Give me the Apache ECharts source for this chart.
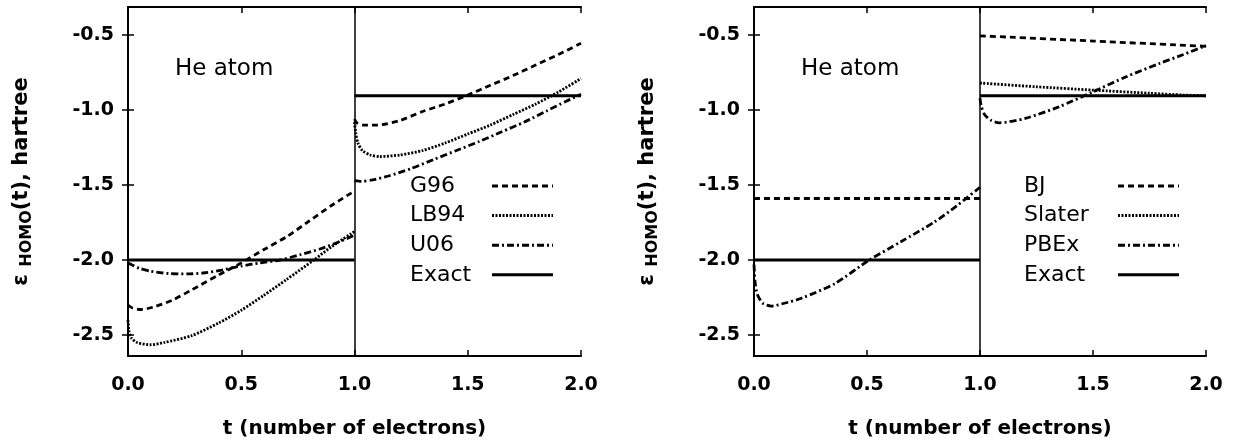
<!DOCTYPE html>
<html>
<head>
<meta charset="utf-8">
<script src="https://cdn.jsdelivr.net/npm/echarts@6/dist/echarts.min.js"></script>
<style>
  html, body { margin: 0; padding: 0; background: #fff; }
  #chart { width: 1239px; height: 441px; }
</style>
</head>
<body>
<div id="chart"></div>
<script>
// ---- data (t in electrons, eps in hartree) ----
// left panel
const g96T1 = [0, 0.02, 0.06, 0.12, 0.2, 0.28, 0.4, 0.5, 0.6, 0.7, 0.8, 0.9, 1.0]
const g96V1 = [-2.30, -2.32, -2.33, -2.31, -2.265, -2.20, -2.10, -2.02, -1.93, -1.845, -1.74, -1.635, -1.54]
const g96T2 = [1.0, 1.01, 1.04, 1.1, 1.2, 1.3, 1.4, 1.5, 1.6, 1.7, 1.8, 1.9, 2.0]
const g96V2 = [-1.06, -1.085, -1.10, -1.10, -1.07, -1.01, -0.96, -0.90, -0.835, -0.77, -0.70, -0.63, -0.555]

const lb94T1 = [0, 0.004, 0.015, 0.04, 0.1, 0.16, 0.28, 0.4, 0.5, 0.6, 0.7, 0.82, 0.9, 1.0]
const lb94V1 = [-2.40, -2.47, -2.52, -2.55, -2.565, -2.55, -2.505, -2.42, -2.335, -2.235, -2.13, -2.0, -1.91, -1.81]
const lb94T2 = [1.0, 1.005, 1.015, 1.035, 1.07, 1.11, 1.2, 1.3, 1.4, 1.5, 1.6, 1.7, 1.8, 1.9, 2.0]
const lb94V2 = [-1.08, -1.15, -1.22, -1.27, -1.30, -1.31, -1.30, -1.27, -1.22, -1.16, -1.10, -1.03, -0.96, -0.88, -0.79]

const u06T1 = [0, 0.05, 0.1, 0.18, 0.26, 0.34, 0.42, 0.5, 0.58, 0.67, 0.76, 0.85, 0.93, 1.0]
const u06V1 = [-2.02, -2.055, -2.075, -2.09, -2.093, -2.085, -2.065, -2.04, -2.02, -2.0, -1.965, -1.925, -1.88, -1.835]
const u06T2 = [1.0, 1.03, 1.08, 1.15, 1.25, 1.35, 1.45, 1.55, 1.65, 1.75, 1.85, 1.93, 2.0]
const u06V2 = [-1.47, -1.475, -1.465, -1.44, -1.39, -1.33, -1.27, -1.21, -1.145, -1.08, -1.005, -0.945, -0.895]

// exact values (same in both panels)
const exactT1 = [0, 1]
const exactV1 = [-2.0, -2.0]
const exactT2 = [1, 2]
const exactV2 = [-0.904, -0.904]

// right panel
const bjT1 = [0, 1]
const bjV1 = [-1.59, -1.59]
const bjT2 = [1, 1.5, 2]
const bjV2 = [-0.505, -0.54, -0.575]

const slaterT2 = [1, 1.25, 1.5, 1.75, 1.9, 2.0]
const slaterV2 = [-0.82, -0.845, -0.867, -0.888, -0.90, -0.905]

const pbeT1 = [0, 0.005, 0.015, 0.04, 0.076, 0.13, 0.21, 0.36, 0.51, 0.65, 0.8, 0.9, 1.0]
const pbeV1 = [-2.03, -2.15, -2.23, -2.29, -2.307, -2.29, -2.255, -2.155, -2.0, -1.878, -1.745, -1.635, -1.515]
const pbeT2 = [1.0, 1.005, 1.02, 1.05, 1.086, 1.2, 1.35, 1.5, 1.647, 1.795, 1.9, 2.0]
const pbeV2 = [-0.92, -0.97, -1.03, -1.07, -1.085, -1.056, -0.978, -0.878, -0.778, -0.689, -0.63, -0.57]

const yTicks = [-2.5, -2.0, -1.5, -1.0, -0.5]
const legendLeft = ['G96', 'LB94', 'U06', 'Exact']
const legendRight = ['BJ', 'Slater', 'PBEx', 'Exact']

const FONT = 'DejaVu Sans'
const DASH = [6, 4]
const DOT = [2, 1.5]
const DASHDOT = [7, 3, 2, 3]

function pts(ts, vs) {
  return ts.map((t, i) => [t, vs[i]])
}

function curve(name, ts, vs, dash, panel, width) {
  return {
    name: name,
    type: 'line',
    xAxisIndex: panel * 2,
    yAxisIndex: panel * 2,
    data: pts(ts, vs),
    symbol: 'none',
    smooth: 0.25,
    silent: true,
    z: width ? 3 : 2,
    lineStyle: { color: '#000', width: width || 2.8, type: dash },
    itemStyle: { color: '#000' }
  }
}

// vertical line at t = 1, on the exact series
function withDivider(s) {
  s.markLine = {
    silent: true,
    symbol: 'none',
    label: { show: false },
    lineStyle: { color: '#000', width: 1.5, type: 'solid' },
    data: [{ xAxis: 1 }]
  }
  return s
}

function xAxes(grid) {
  const base = {
    type: 'value', gridIndex: grid, min: 0, max: 2, interval: 0.5,
    axisLine: { show: true, lineStyle: { color: '#000', width: 2 } },
    axisTick: { show: true, inside: true, length: 6, lineStyle: { color: '#000', width: 1.5 } },
    splitLine: { show: false }
  }
  return [
    Object.assign({}, base, {
      position: 'bottom',
      name: 't (number of electrons)',
      nameLocation: 'middle',
      nameGap: 63,
      nameTextStyle: { fontFamily: FONT, fontSize: 20, fontWeight: 'bold', color: '#000' },
      axisLabel: {
        margin: 20, fontFamily: FONT, fontSize: 19, fontWeight: 'bold', color: '#000',
        formatter: v => v.toFixed(1)
      }
    }),
    Object.assign({}, base, { position: 'top', axisLabel: { show: false } })
  ]
}

function yAxes(grid) {
  const base = {
    type: 'value', gridIndex: grid, min: -2.64, max: -0.313,
    axisLine: { show: true, lineStyle: { color: '#000', width: 2 } },
    axisTick: { show: true, inside: true, length: 6, customValues: yTicks, lineStyle: { color: '#000', width: 1.5 } },
    splitLine: { show: false }
  }
  return [
    Object.assign({}, base, {
      position: 'left',
      name: '\u03b5 {s|HOMO}(t), hartree',
      nameLocation: 'middle',
      nameGap: 93,
      nameTextStyle: {
        fontFamily: FONT, fontSize: 21, fontWeight: 'bold', color: '#000', lineHeight: 26,
        rich: { s: { fontFamily: FONT, fontSize: 16, fontWeight: 'bold', color: '#000', lineHeight: 16, verticalAlign: 'bottom' } }
      },
      axisLabel: {
        margin: 14, fontFamily: FONT, fontSize: 19, fontWeight: 'bold', color: '#000',
        customValues: yTicks,
        formatter: v => v.toFixed(1)
      }
    }),
    Object.assign({}, base, { position: 'right', axisLabel: { show: false } })
  ]
}

function legend(names, left, textWidth) {
  return {
    data: names,
    orient: 'vertical',
    align: 'right',
    left: left,
    top: 175,
    padding: 0,
    itemWidth: 61,
    itemHeight: 14,
    itemGap: 7.6,
    selectedMode: false,
    itemStyle: { opacity: 0 },
    lineStyle: { width: 3 },
    formatter: n => '{a|' + n + '}',
    textStyle: {
      rich: { a: { width: textWidth, align: 'left', fontFamily: FONT, fontSize: 22, lineHeight: 22, color: '#000' } }
    }
  }
}

const chart = echarts.init(document.getElementById('chart'), null, { renderer: 'canvas' })

chart.setOption({
  backgroundColor: '#fff',
  animation: false,
  title: [
    { text: 'He atom', left: 175, top: 58, padding: 0, textStyle: { fontFamily: FONT, fontSize: 23, fontWeight: 'normal', color: '#000' } },
    { text: 'He atom', left: 801, top: 58, padding: 0, textStyle: { fontFamily: FONT, fontSize: 23, fontWeight: 'normal', color: '#000' } }
  ],
  legend: [legend(legendLeft, 410, 77), legend(legendRight, 1024, 89)],
  grid: [
    { left: 128, top: 7, width: 453, height: 349, outerBoundsMode: 'none' },
    { left: 754, top: 7, width: 452, height: 349, outerBoundsMode: 'none' }
  ],
  xAxis: xAxes(0).concat(xAxes(1)),
  yAxis: yAxes(0).concat(yAxes(1)),
  series: [
    curve('G96', g96T1, g96V1, DASH, 0),
    curve('G96', g96T2, g96V2, DASH, 0),
    curve('LB94', lb94T1, lb94V1, DOT, 0),
    curve('LB94', lb94T2, lb94V2, DOT, 0),
    curve('U06', u06T1, u06V1, DASHDOT, 0),
    curve('U06', u06T2, u06V2, DASHDOT, 0),
    withDivider(curve('Exact', exactT1, exactV1, 'solid', 0, 3)),
    curve('Exact', exactT2, exactV2, 'solid', 0, 3),

    curve('BJ', bjT1, bjV1, DASH, 1),
    curve('BJ', bjT2, bjV2, DASH, 1),
    // Slater coincides with the exact line for t < 1, so only its t > 1 branch shows
    curve('Slater', slaterT2, slaterV2, DOT, 1),
    curve('PBEx', pbeT1, pbeV1, DASHDOT, 1),
    curve('PBEx', pbeT2, pbeV2, DASHDOT, 1),
    withDivider(curve('Exact', exactT1, exactV1, 'solid', 1, 3)),
    curve('Exact', exactT2, exactV2, 'solid', 1, 3)
  ]
})
</script>
</body>
</html>
